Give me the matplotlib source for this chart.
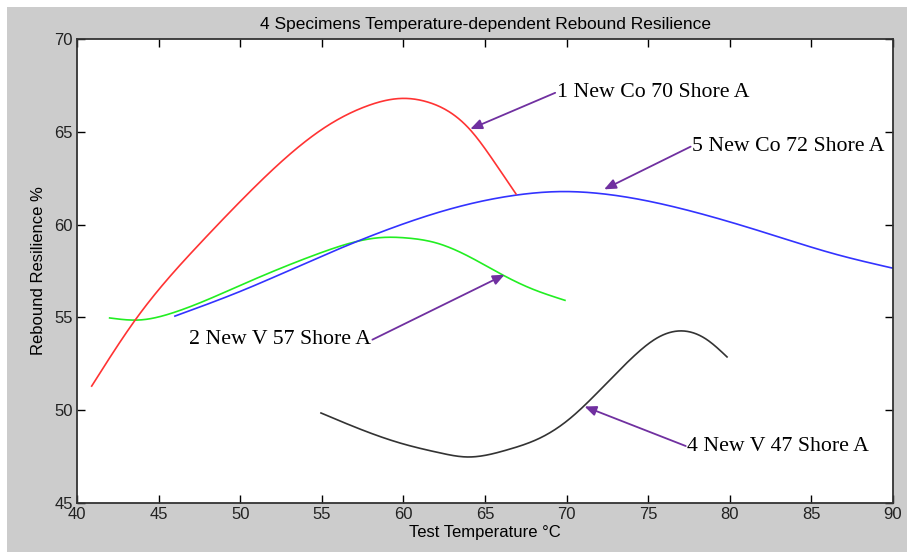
import matplotlib
matplotlib.use("Agg")
import matplotlib.pyplot as plt
import numpy as np
from matplotlib.patches import Rectangle

# ---- data ----
red_x = [40.9, 43.6, 47.5, 50.4, 55.3, 57.8, 60.0, 61.5, 64.1, 65.55, 66.9]
red_y = [51.3, 54.9, 58.95, 61.6, 65.3, 66.4, 66.8, 66.6, 65.1, 63.4, 61.65]

green_x = [42.0, 43.8, 45.85, 50.2, 54.9, 58.6, 60.2, 62.06, 64.08, 66.1, 67.76, 69.9]
green_y = [54.97, 54.86, 55.24, 56.8, 58.47, 59.3, 59.28, 59.0, 58.25, 57.28, 56.58, 55.92]

blue_x = [46.0, 50.0, 53.7, 56.9, 59.4, 62.9, 67.0, 69.7, 72.3, 77.3, 82.4, 86.5, 90.0]
blue_y = [55.07, 56.4, 57.8, 59.0, 59.85, 60.85, 61.6, 61.78, 61.65, 60.8, 59.5, 58.4, 57.65]

black_x = [54.95, 59.8, 62.24, 63.9, 66.35, 68.37, 70.02, 72.47, 74.07, 75.54, 77.13, 78.6, 79.83]
black_y = [49.85, 48.23, 47.7, 47.48, 47.86, 48.5, 49.42, 51.47, 52.87, 53.89, 54.27, 53.8, 52.87]

labels = ["1 New Co 70 Shore A", "5 New Co 72 Shore A", "2 New V 57 Shore A", "4 New V 47 Shore A"]
arrow_tips = [(64.1, 65.15), (72.3, 61.9), (66.2, 57.3), (71.1, 50.2)]
text_pos = [(69.3, 67.1), (77.6, 64.2), (58.1, 53.8), (77.3, 48.07)]
text_ha = ["left", "left", "right", "left"]

xticks = [40, 45, 50, 55, 60, 65, 70, 75, 80, 85, 90]
yticks = [45, 50, 55, 60, 65, 70]


def natural_spline(x, y, num=400):
    x = np.asarray(x, float); y = np.asarray(y, float)
    n = len(x)
    h = np.diff(x)
    A = np.zeros((n, n)); b = np.zeros(n)
    A[0, 0] = 1; A[-1, -1] = 1
    for i in range(1, n - 1):
        A[i, i - 1] = h[i - 1]
        A[i, i] = 2 * (h[i - 1] + h[i])
        A[i, i + 1] = h[i]
        b[i] = 3 * ((y[i + 1] - y[i]) / h[i] - (y[i] - y[i - 1]) / h[i - 1])
    c = np.linalg.solve(A, b)
    xs = np.linspace(x[0], x[-1], num)
    idx = np.clip(np.searchsorted(x, xs) - 1, 0, n - 2)
    dx = xs - x[idx]
    bb = (y[idx + 1] - y[idx]) / h[idx] - h[idx] * (2 * c[idx] + c[idx + 1]) / 3
    dd = (c[idx + 1] - c[idx]) / (3 * h[idx])
    ys = y[idx] + bb * dx + c[idx] * dx ** 2 + dd * dx ** 3
    return xs, ys


W, H = 907, 552
fig = plt.figure(figsize=(W / 100, H / 100), dpi=100, facecolor="white")
fig.patches.append(Rectangle((7 / W, 0), 1 - 7 / W, 1 - 7 / H, transform=fig.transFigure,
                             facecolor="#cccccc", edgecolor="none", zorder=-10))

ax = fig.add_axes([77 / W, 1 - 503 / H, (893 - 77) / W, (503 - 39) / H])
ax.set_facecolor("white")

for xx, yy, c in [(green_x, green_y, "#22ee22"), (blue_x, blue_y, "#3333ff"),
                  (red_x, red_y, "#ff3333"), (black_x, black_y, "#333333")]:
    sx, sy = natural_spline(xx, yy)
    ax.plot(sx, sy, color=c, lw=1.2)

for lab, tip, tp, ha in zip(labels, arrow_tips, text_pos, text_ha):
    ax.annotate("", xy=tip, xytext=tp,
                arrowprops=dict(arrowstyle="-|>,head_length=0.7,head_width=0.3",
                                color="#7030a0", lw=1.3, shrinkA=0, shrinkB=0))
    ax.text(tp[0] + (0.1 if ha == "left" else -0.1), tp[1], lab, ha=ha, va="center",
            fontsize=15.7, family="Liberation Serif", color="black")

ax.set_xlim(40, 90)
ax.set_ylim(45, 70)
ax.set_xticks(xticks)
ax.set_yticks(yticks)
tickfont = "Liberation Sans"
ax.tick_params(direction="in", length=6, width=1, top=True, right=True,
               labelsize=12, labelcolor="#222222", pad=3)
for lab in ax.get_xticklabels() + ax.get_yticklabels():
    lab.set_family(tickfont)
for s in ax.spines.values():
    s.set_linewidth(1.3)
    s.set_color("#333333")

ax.set_xlabel("Test Temperature °C", fontsize=12, family=tickfont, labelpad=2)
ax.set_ylabel("Rebound Resilience %", fontsize=12, family=tickfont, labelpad=6)
ax.set_title("4 Specimens Temperature-dependent Rebound Resilience", fontsize=12.5,
             family=tickfont, pad=7)

fig.savefig("out.png", dpi=100, facecolor="white")
